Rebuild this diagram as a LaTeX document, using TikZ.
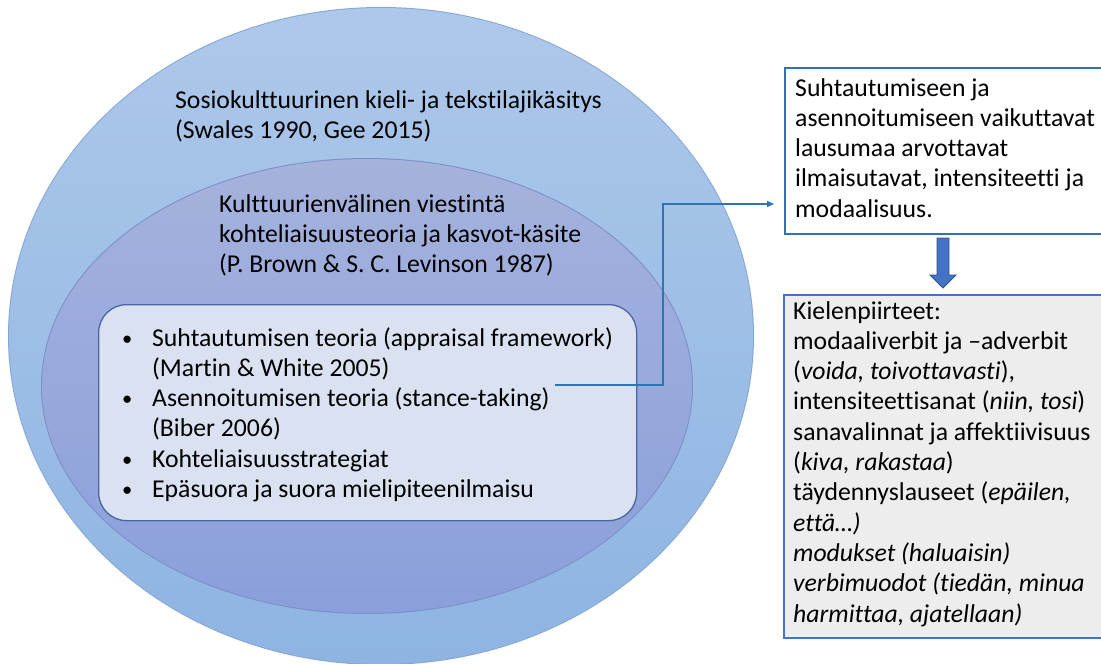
\documentclass[tikz,border=0pt]{standalone}
\usepackage{fontspec}
\setmainfont{Carlito}[Ligatures=NoCommon]
\usetikzlibrary{arrows.meta}
\definecolor{outerTop}{HTML}{ADC8EA}
\definecolor{outerBot}{HTML}{8EB4E2}
\definecolor{outerLine}{HTML}{86A6D4}
\definecolor{innerTop}{HTML}{A5B2DC}
\definecolor{innerBot}{HTML}{8A9FDB}
\definecolor{innerLine}{HTML}{7C8FC6}
\definecolor{rectFill}{HTML}{DAE2F2}
\definecolor{rectLine}{HTML}{4A66A0}
\definecolor{linkBlue}{HTML}{2E75B6}
\definecolor{boxBlue}{HTML}{4472C4}
\definecolor{boxDark}{HTML}{2F528F}
\definecolor{grayFill}{HTML}{EDEDED}
\newcommand{\mybul}{\makebox[30pt][l]{\raisebox{1pt}{\scalebox{0.8}{\textbullet}}}}
\tikzset{
  txt/.style={align=left, inner sep=0pt, font=\fontsize{25.7}{30.3}\selectfont, text=black},
  framebox/.style={draw=linkBlue, line width=2.2pt, anchor=north west, inner sep=0pt},
  link/.style={draw=linkBlue, line width=1.6pt, -{Triangle[length=7pt,width=6pt]}}
}
\begin{document}
\begin{tikzpicture}[x=1pt,y=-1pt]
\useasboundingbox (0,0) rectangle (1101,664);
\clip (0,0) rectangle (1101,664);
% outer circle
\fill[outerLine] (381,336) ellipse [x radius=373, y radius=329];
\shade[top color=outerTop, bottom color=outerBot] (381,336) ellipse [x radius=372, y radius=328];
% inner ellipse
\fill[innerLine] (367,386) ellipse [x radius=326, y radius=228];
\shade[top color=innerTop, bottom color=innerBot] (367,386) ellipse [x radius=325, y radius=227];
% rounded rectangle
\node[draw=rectLine, fill=rectFill, line width=1.3pt, rounded corners=28pt, anchor=north west,
      minimum width=538pt, minimum height=216pt, inner sep=0pt] (theory) at (98,304) {};
% texts (anchor = baseline of last line)
\node[txt, anchor=base west] (sosio) at (175,138.3) {Sosiokulttuurinen kieli- ja tekstilajikäsitys\\(Swales 1990, Gee 2015)};
\node[txt, anchor=base west] (kult) at (219,272.6) {Kulttuurienvälinen viestintä\\kohteliaisuusteoria ja kasvot-käsite\\(P. Brown \& S. C. Levinson 1987)};
\node[txt, anchor=base west] (list) at (122,497.5) {%
\mybul Suhtautumisen teoria (appraisal framework)\\
\hspace*{30pt}(Martin \& White 2005)\\
\mybul Asennoitumisen teoria (stance-taking)\\
\hspace*{30pt}(Biber 2006)\\
\mybul Kohteliaisuusstrategiat\\
\mybul Epäsuora ja suora mielipiteenilmaisu};
% right boxes
\node[framebox, minimum width=330pt, minimum height=166pt] (topbox) at (784,67) {};
\node[txt, anchor=base west] (toptxt) at (795,217.2) {Suhtautumiseen ja\\asennoitumiseen vaikuttavat\\lausumaa arvottavat\\ilmaisutavat, intensiteetti ja\\modaalisuus.};
\node[framebox, draw=boxBlue, fill=grayFill, minimum width=330pt, minimum height=343pt] (botbox) at (783,294) {};
\node[txt, anchor=base west] (bottxt) at (793,622) {Kielenpiirteet:\\
modaaliverbit ja –adverbit\\
(\textit{voida, toivottavasti}),\\
intensiteettisanat (\textit{niin, tosi})\\
sanavalinnat ja affektiivisuus\\
(\textit{kiva, rakastaa})\\
täydennyslauseet (\textit{epäilen,}\\
\textit{että…)}\\
\textit{modukset (haluaisin)}\\
\textit{verbimuodot (tiedän, minua}\\
\textit{harmittaa, ajatellaan)}};
% connector
\coordinate (lstart) at (555,385);
\coordinate (lend) at (774,204);
\draw[link] (lstart) -- (663,385) -- (663,204) -- (lend);
% block arrow down
\filldraw[fill=boxBlue, draw=boxDark, line width=0.8pt]
  (937,238) -- (949,238) -- (949,275) -- (956,275) -- (943,288) -- (930,275) -- (937,275) -- cycle;
\end{tikzpicture}
\end{document}
